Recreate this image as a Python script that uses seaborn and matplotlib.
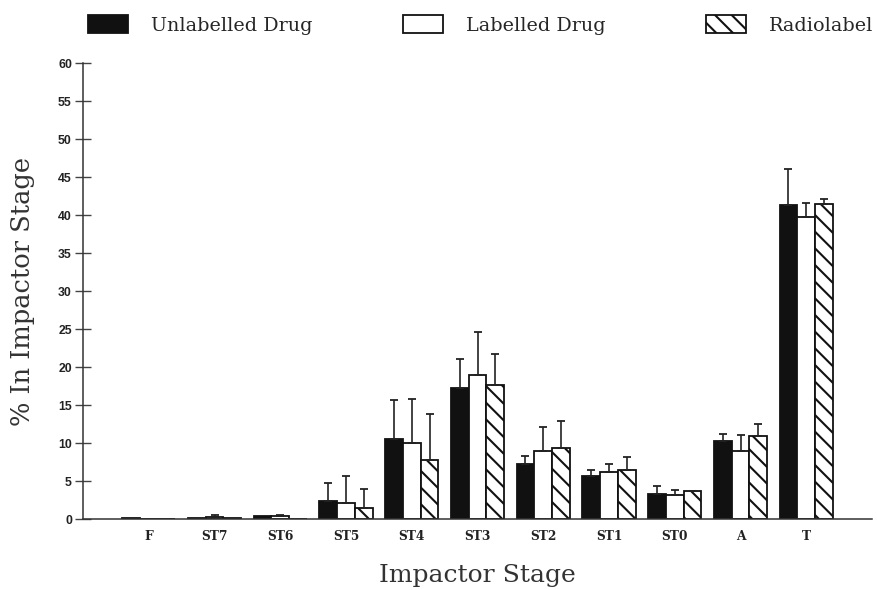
import matplotlib
matplotlib.use("Agg")
import matplotlib.pyplot as plt
import seaborn as sns
import pandas as pd
import numpy as np

stages = ["F", "ST7", "ST6", "ST5", "ST4", "ST3", "ST2", "ST1", "ST0", "A", "T"]
series = ["Unlabelled Drug", "Labelled Drug", "Radiolabel"]
unlabelled = [0.1, 0.15, 0.45, 2.4, 10.5, 17.3, 7.2, 5.6, 3.3, 10.3, 41.3]
labelled = [0.0, 0.2, 0.35, 2.1, 10.0, 18.9, 9.0, 6.2, 3.1, 9.0, 39.7]
radiolabel = [0.0, 0.1, 0.05, 1.4, 7.7, 17.6, 9.4, 6.5, 3.7, 10.9, 41.5]
unlabelled_err = [0, 0, 0, 2.4, 5.1, 3.7, 1.1, 0.8, 1.0, 0.9, 4.7]
labelled_err = [0, 0.3, 0.15, 3.6, 5.8, 5.7, 3.1, 1.0, 0.7, 2.1, 1.9]
radiolabel_err = [0, 0, 0, 2.5, 6.1, 4.1, 3.5, 1.7, 0.05, 1.6, 0.6]
y_ticks = [0, 5, 10, 15, 20, 25, 30, 35, 40, 45, 50, 55, 60]

values = [unlabelled, labelled, radiolabel]
errors = [unlabelled_err, labelled_err, radiolabel_err]

df = pd.DataFrame({
    "stage": stages * 3,
    "series": [s for s in series for _ in stages],
    "value": unlabelled + labelled + radiolabel,
})

sns.set_style("white")
plt.rcParams["hatch.linewidth"] = 1.5

fig = plt.figure(figsize=(8.77, 5.90), dpi=100)
ax = fig.add_axes([83 / 877, 71 / 590, 789 / 877, 456 / 590])

palette = {"Unlabelled Drug": "#111111", "Labelled Drug": "white", "Radiolabel": "white"}
sns.barplot(data=df, x="stage", y="value", hue="series", order=stages,
            hue_order=series, palette=palette, edgecolor="#111111",
            linewidth=1.3, width=0.81, ax=ax, legend=False, saturation=1)

for p in ax.containers[2].patches:
    p.set_hatch("\\\\")

for cont, err in zip(ax.containers, errors):
    xs = np.array([p.get_x() + p.get_width() / 2 for p in cont.patches])
    hs = np.array([p.get_height() for p in cont.patches])
    e = np.array(err)
    m = e > 0
    ax.errorbar(xs[m], hs[m], yerr=[np.zeros(m.sum()), e[m]], fmt="none",
                ecolor="#222222", elinewidth=1.2, capsize=3, capthick=1.3)

ax.set_xlim(-1, 11)
ax.set_ylim(0, 60)
ax.set_yticks(y_ticks)
ax.set_yticklabels([str(t) for t in y_ticks], fontfamily="Liberation Sans",
                   fontweight="bold", fontsize=8.8, color="#222222")
ax.set_xticks(range(len(stages)))
ax.set_xticklabels(stages, fontfamily="DejaVu Serif", fontweight="bold",
                   fontsize=8.8, color="#222222")
ax.tick_params(axis="y", direction="inout", length=12, width=1, color="#444444", pad=2, left=True)
ax.tick_params(axis="x", length=0, pad=8)

for s in ["top", "right"]:
    ax.spines[s].set_visible(False)
for s in ["left", "bottom"]:
    ax.spines[s].set_color("#333333")
    ax.spines[s].set_linewidth(1.1)

ax.set_xlabel("Impactor Stage", fontfamily="DejaVu Serif", fontsize=18, color="#333333")
ax.set_ylabel("% In Impactor Stage", fontfamily="DejaVu Serif", fontsize=18.5, color="#333333")
ax.xaxis.set_label_coords(0.5, -0.0987)
ax.yaxis.set_label_coords(-0.061, 0.5)

legend_x = [88, 403, 706]
fs = 13.8
for cont, name, lx in zip(ax.containers, series, legend_x):
    fig.legend(handles=[cont], labels=[name], loc="upper left",
               bbox_to_anchor=(lx / 877, 1 - 15 / 590), frameon=False,
               prop={"family": "DejaVu Serif", "size": fs},
               handlelength=2.1, handleheight=1.07, handletextpad=1.2,
               borderpad=0, borderaxespad=0)

fig.savefig("out.png", dpi=100)
